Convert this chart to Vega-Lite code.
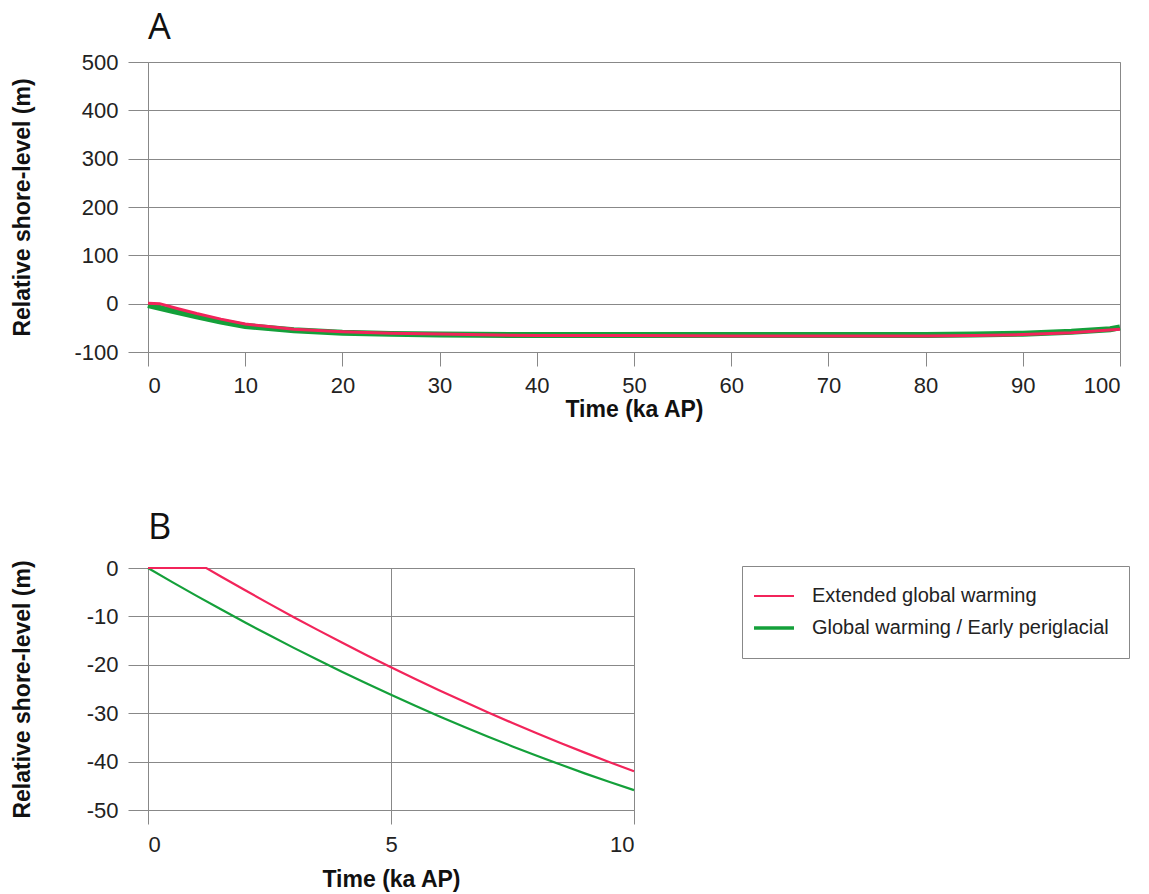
{
  "$schema": "https://vega.github.io/schema/vega-lite/v6.json",
  "padding": {"left": 10, "top": 9, "right": 5, "bottom": 2},
  "background": "white",
  "config": {
    "font": "Liberation Sans",
    "view": {"stroke": "#888", "strokeWidth": 1},
    "axis": {"labelFont": "Liberation Sans", "labelFontSize": 22, "labelColor": "#222", "titleFont": "Liberation Sans", "titleFontSize": 23, "titleFontWeight": "bold", "titleColor": "#111", "gridColor": "#888", "gridOpacity": 1, "tickColor": "#888", "domain": false, "labelExpr": "'' + datum.value"},
    "title": {"font": "Open Sans", "fontSize": 36, "fontWeight": "normal", "anchor": "start", "frame": "group", "color": "#111"}
  },
  "resolve": {"scale": {"color": "independent"}, "legend": {"color": "independent"}},
  "datasets": {
    "a": [
      {"t": 0, "v": -3, "s": "Global warming / Early periglacial"},
      {"t": 2.5, "v": -15, "s": "Global warming / Early periglacial"},
      {"t": 5, "v": -26, "s": "Global warming / Early periglacial"},
      {"t": 7.5, "v": -37, "s": "Global warming / Early periglacial"},
      {"t": 10, "v": -46, "s": "Global warming / Early periglacial"},
      {"t": 15, "v": -55, "s": "Global warming / Early periglacial"},
      {"t": 20, "v": -60, "s": "Global warming / Early periglacial"},
      {"t": 25, "v": -62.5, "s": "Global warming / Early periglacial"},
      {"t": 30, "v": -64, "s": "Global warming / Early periglacial"},
      {"t": 40, "v": -65, "s": "Global warming / Early periglacial"},
      {"t": 50, "v": -65, "s": "Global warming / Early periglacial"},
      {"t": 60, "v": -65, "s": "Global warming / Early periglacial"},
      {"t": 70, "v": -65, "s": "Global warming / Early periglacial"},
      {"t": 80, "v": -65, "s": "Global warming / Early periglacial"},
      {"t": 85, "v": -64, "s": "Global warming / Early periglacial"},
      {"t": 90, "v": -62, "s": "Global warming / Early periglacial"},
      {"t": 95, "v": -58, "s": "Global warming / Early periglacial"},
      {"t": 99, "v": -53, "s": "Global warming / Early periglacial"},
      {"t": 100, "v": -49, "s": "Global warming / Early periglacial"},
      {"t": 0, "v": 1, "s": "Extended global warming"},
      {"t": 1.2, "v": 0, "s": "Extended global warming"},
      {"t": 3, "v": -10, "s": "Extended global warming"},
      {"t": 5, "v": -20.5, "s": "Extended global warming"},
      {"t": 7.5, "v": -32, "s": "Extended global warming"},
      {"t": 10, "v": -42, "s": "Extended global warming"},
      {"t": 15, "v": -53, "s": "Extended global warming"},
      {"t": 20, "v": -58, "s": "Extended global warming"},
      {"t": 25, "v": -61, "s": "Extended global warming"},
      {"t": 30, "v": -63, "s": "Extended global warming"},
      {"t": 40, "v": -66, "s": "Extended global warming"},
      {"t": 50, "v": -66, "s": "Extended global warming"},
      {"t": 60, "v": -67, "s": "Extended global warming"},
      {"t": 70, "v": -67, "s": "Extended global warming"},
      {"t": 80, "v": -67, "s": "Extended global warming"},
      {"t": 85, "v": -66, "s": "Extended global warming"},
      {"t": 90, "v": -64, "s": "Extended global warming"},
      {"t": 95, "v": -60, "s": "Extended global warming"},
      {"t": 100, "v": -53, "s": "Extended global warming"}
    ],
    "b": [
      {"t": 0, "v": 0, "s": "Global warming / Early periglacial"},
      {"t": 0.5, "v": -2.91, "s": "Global warming / Early periglacial"},
      {"t": 1, "v": -5.76, "s": "Global warming / Early periglacial"},
      {"t": 1.5, "v": -8.54, "s": "Global warming / Early periglacial"},
      {"t": 2, "v": -11.26, "s": "Global warming / Early periglacial"},
      {"t": 2.5, "v": -13.91, "s": "Global warming / Early periglacial"},
      {"t": 3, "v": -16.5, "s": "Global warming / Early periglacial"},
      {"t": 3.5, "v": -19.02, "s": "Global warming / Early periglacial"},
      {"t": 4, "v": -21.48, "s": "Global warming / Early periglacial"},
      {"t": 4.5, "v": -23.87, "s": "Global warming / Early periglacial"},
      {"t": 5, "v": -26.2, "s": "Global warming / Early periglacial"},
      {"t": 5.5, "v": -28.46, "s": "Global warming / Early periglacial"},
      {"t": 6, "v": -30.66, "s": "Global warming / Early periglacial"},
      {"t": 6.5, "v": -32.79, "s": "Global warming / Early periglacial"},
      {"t": 7, "v": -34.86, "s": "Global warming / Early periglacial"},
      {"t": 7.5, "v": -36.86, "s": "Global warming / Early periglacial"},
      {"t": 8, "v": -38.8, "s": "Global warming / Early periglacial"},
      {"t": 8.5, "v": -40.67, "s": "Global warming / Early periglacial"},
      {"t": 9, "v": -42.48, "s": "Global warming / Early periglacial"},
      {"t": 9.5, "v": -44.22, "s": "Global warming / Early periglacial"},
      {"t": 10, "v": -45.9, "s": "Global warming / Early periglacial"},
      {"t": 0, "v": 0, "s": "Extended global warming"},
      {"t": 1.2, "v": 0, "s": "Extended global warming"},
      {"t": 1.5, "v": -1.75, "s": "Extended global warming"},
      {"t": 2, "v": -4.61, "s": "Extended global warming"},
      {"t": 2.5, "v": -7.42, "s": "Extended global warming"},
      {"t": 3, "v": -10.16, "s": "Extended global warming"},
      {"t": 3.5, "v": -12.84, "s": "Extended global warming"},
      {"t": 4, "v": -15.45, "s": "Extended global warming"},
      {"t": 4.5, "v": -18.01, "s": "Extended global warming"},
      {"t": 5, "v": -20.5, "s": "Extended global warming"},
      {"t": 5.5, "v": -22.93, "s": "Extended global warming"},
      {"t": 6, "v": -25.3, "s": "Extended global warming"},
      {"t": 6.5, "v": -27.6, "s": "Extended global warming"},
      {"t": 7, "v": -29.85, "s": "Extended global warming"},
      {"t": 7.5, "v": -32.03, "s": "Extended global warming"},
      {"t": 8, "v": -34.15, "s": "Extended global warming"},
      {"t": 8.5, "v": -36.21, "s": "Extended global warming"},
      {"t": 9, "v": -38.2, "s": "Extended global warming"},
      {"t": 9.5, "v": -40.13, "s": "Extended global warming"},
      {"t": 10, "v": -42, "s": "Extended global warming"}
    ]
  },
  "spacing": 87,
  "vconcat": [
    {
      "title": {"text": "A", "offset": 4},
      "width": 972,
      "height": 290,
      "data": {"name": "a"},
      "encoding": {
        "x": {"field": "t", "type": "quantitative", "scale": {"domain": [0, 100], "nice": false}, "axis": {"values": [0,10,20,30,40,50,60,70,80,90,100], "grid": false, "tickSize": 14, "labelPadding": 9, "title": "Time (ka AP)", "titlePadding": 2}},
        "y": {"field": "v", "type": "quantitative", "scale": {"domain": [-100, 500], "nice": false}, "axis": {"values": [-100,0,100,200,300,400,500], "tickSize": 20, "labelPadding": 10, "title": "Relative shore-level (m)", "titleX": -126, "titleBaseline": "middle"}},
        "color": {"field": "s", "type": "nominal", "scale": {"domain": ["Extended global warming", "Global warming / Early periglacial"], "range": ["#f2245a", "#14a03a"]}, "legend": null}
      },
      "layer": [
        {"transform": [{"filter": "datum.s == 'Global warming / Early periglacial'"}], "mark": {"type": "line", "strokeWidth": 6}},
        {"transform": [{"filter": "datum.s == 'Extended global warming'"}], "mark": {"type": "line", "strokeWidth": 3}}
      ]
    },
    {
      "title": {"text": "B", "offset": 10},
      "width": 486,
      "height": 242,
      "data": {"name": "b"},
      "mark": {"type": "line", "strokeWidth": 2.2},
      "encoding": {
        "x": {"field": "t", "type": "quantitative", "scale": {"domain": [0, 10], "nice": false}, "axis": {"values": [0, 5, 10], "grid": true, "tickSize": 14, "labelPadding": 10, "title": "Time (ka AP)", "titlePadding": 13}},
        "y": {"field": "v", "type": "quantitative", "scale": {"domain": [-50, 0], "nice": false}, "axis": {"values": [-50,-40,-30,-20,-10,0], "tickSize": 20, "labelPadding": 10, "title": "Relative shore-level (m)", "titleX": -126, "titleBaseline": "middle"}},
        "color": {"field": "s", "type": "nominal", "scale": {"domain": ["Extended global warming", "Global warming / Early periglacial"], "range": ["#f2245a", "#14a03a"]},
          "legend": {"orient": "none", "legendX": 594, "legendY": -2, "title": null, "padding": 20, "strokeColor": "#888", "fillColor": "white", "symbolType": "stroke", "symbolSize": 1600, "symbolOffset": 2, "symbolStrokeWidth": 2.5, "labelFont": "Liberation Sans", "labelFontSize": 20, "labelColor": "#222", "labelOffset": 28, "labelLimit": 400, "rowPadding": 12,
            "encode": {"symbols": {"update": {"strokeWidth": {"signal": "datum.value == 'Extended global warming' ? 2 : 3.5"}}}}}}
      }
    }
  ]
}
